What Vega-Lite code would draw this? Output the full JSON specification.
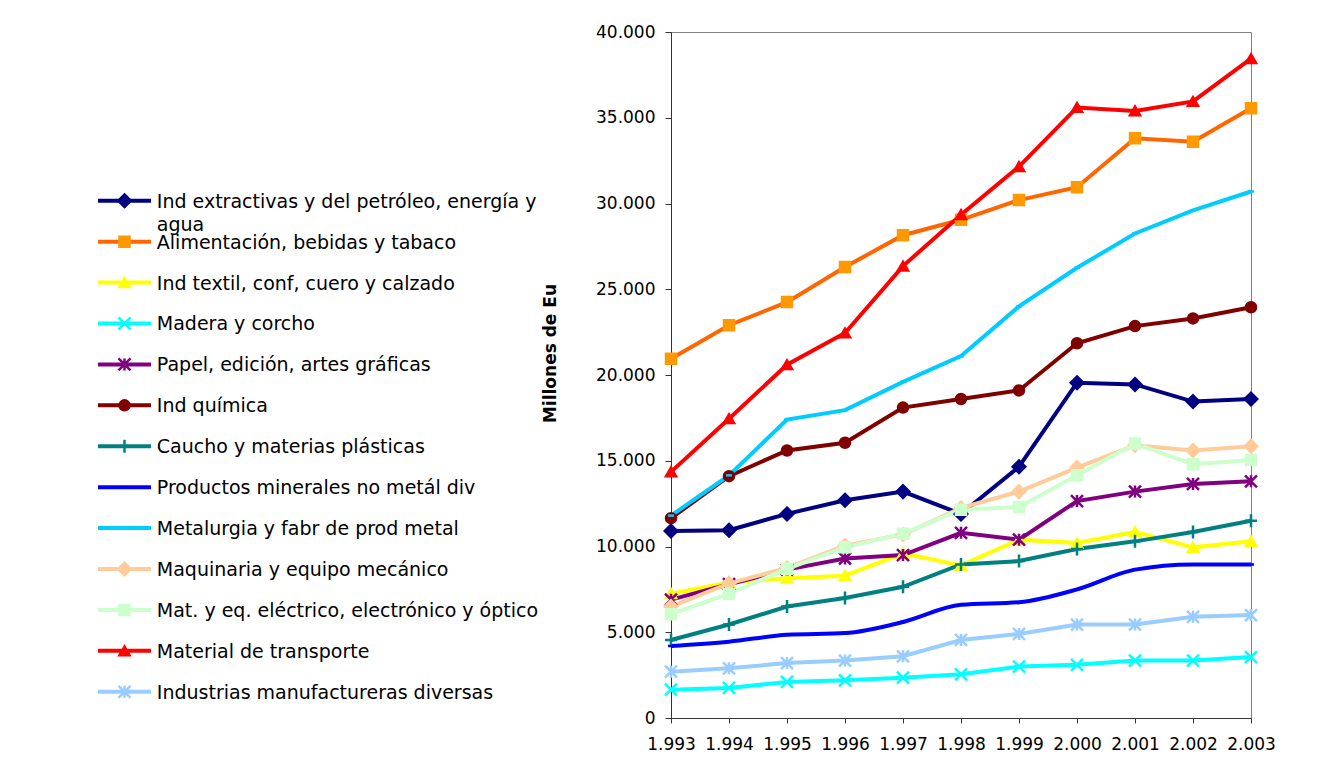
{
  "$schema": "https://vega.github.io/schema/vega-lite/v6.json",
  "width": 580,
  "height": 686,
  "autosize": {"type": "none"},
  "padding": {"left": 671, "top": 32, "right": 72, "bottom": 42},
  "background": "white",
  "config": {"view": {"stroke": "#808080", "strokeWidth": 1}, "font": "DejaVu Sans"},
  "datasets": {
    "main": [
      {"series": "Ind extractivas y del petróleo, energía y agua", "year": 1993, "value": 10900},
      {"series": "Ind extractivas y del petróleo, energía y agua", "year": 1994, "value": 10950},
      {"series": "Ind extractivas y del petróleo, energía y agua", "year": 1995, "value": 11900},
      {"series": "Ind extractivas y del petróleo, energía y agua", "year": 1996, "value": 12700},
      {"series": "Ind extractivas y del petróleo, energía y agua", "year": 1997, "value": 13200},
      {"series": "Ind extractivas y del petróleo, energía y agua", "year": 1998, "value": 11900},
      {"series": "Ind extractivas y del petróleo, energía y agua", "year": 1999, "value": 14650},
      {"series": "Ind extractivas y del petróleo, energía y agua", "year": 2000, "value": 19550},
      {"series": "Ind extractivas y del petróleo, energía y agua", "year": 2001, "value": 19450},
      {"series": "Ind extractivas y del petróleo, energía y agua", "year": 2002, "value": 18450},
      {"series": "Ind extractivas y del petróleo, energía y agua", "year": 2003, "value": 18600},
      {"series": "Alimentación, bebidas y tabaco", "year": 1993, "value": 20950},
      {"series": "Alimentación, bebidas y tabaco", "year": 1994, "value": 22900},
      {"series": "Alimentación, bebidas y tabaco", "year": 1995, "value": 24250},
      {"series": "Alimentación, bebidas y tabaco", "year": 1996, "value": 26300},
      {"series": "Alimentación, bebidas y tabaco", "year": 1997, "value": 28150},
      {"series": "Alimentación, bebidas y tabaco", "year": 1998, "value": 29050},
      {"series": "Alimentación, bebidas y tabaco", "year": 1999, "value": 30200},
      {"series": "Alimentación, bebidas y tabaco", "year": 2000, "value": 30950},
      {"series": "Alimentación, bebidas y tabaco", "year": 2001, "value": 33800},
      {"series": "Alimentación, bebidas y tabaco", "year": 2002, "value": 33600},
      {"series": "Alimentación, bebidas y tabaco", "year": 2003, "value": 35550},
      {"series": "Ind textil, conf, cuero y calzado", "year": 1993, "value": 7250},
      {"series": "Ind textil, conf, cuero y calzado", "year": 1994, "value": 7900},
      {"series": "Ind textil, conf, cuero y calzado", "year": 1995, "value": 8150},
      {"series": "Ind textil, conf, cuero y calzado", "year": 1996, "value": 8300},
      {"series": "Ind textil, conf, cuero y calzado", "year": 1997, "value": 9600},
      {"series": "Ind textil, conf, cuero y calzado", "year": 1998, "value": 8900},
      {"series": "Ind textil, conf, cuero y calzado", "year": 1999, "value": 10400},
      {"series": "Ind textil, conf, cuero y calzado", "year": 2000, "value": 10200},
      {"series": "Ind textil, conf, cuero y calzado", "year": 2001, "value": 10850},
      {"series": "Ind textil, conf, cuero y calzado", "year": 2002, "value": 9950},
      {"series": "Ind textil, conf, cuero y calzado", "year": 2003, "value": 10300},
      {"series": "Madera y corcho", "year": 1993, "value": 1650},
      {"series": "Madera y corcho", "year": 1994, "value": 1750},
      {"series": "Madera y corcho", "year": 1995, "value": 2100},
      {"series": "Madera y corcho", "year": 1996, "value": 2200},
      {"series": "Madera y corcho", "year": 1997, "value": 2350},
      {"series": "Madera y corcho", "year": 1998, "value": 2550},
      {"series": "Madera y corcho", "year": 1999, "value": 3000},
      {"series": "Madera y corcho", "year": 2000, "value": 3100},
      {"series": "Madera y corcho", "year": 2001, "value": 3350},
      {"series": "Madera y corcho", "year": 2002, "value": 3350},
      {"series": "Madera y corcho", "year": 2003, "value": 3550},
      {"series": "Papel, edición, artes gráficas", "year": 1993, "value": 6900},
      {"series": "Papel, edición, artes gráficas", "year": 1994, "value": 7800},
      {"series": "Papel, edición, artes gráficas", "year": 1995, "value": 8650},
      {"series": "Papel, edición, artes gráficas", "year": 1996, "value": 9300},
      {"series": "Papel, edición, artes gráficas", "year": 1997, "value": 9500},
      {"series": "Papel, edición, artes gráficas", "year": 1998, "value": 10800},
      {"series": "Papel, edición, artes gráficas", "year": 1999, "value": 10400},
      {"series": "Papel, edición, artes gráficas", "year": 2000, "value": 12650},
      {"series": "Papel, edición, artes gráficas", "year": 2001, "value": 13200},
      {"series": "Papel, edición, artes gráficas", "year": 2002, "value": 13650},
      {"series": "Papel, edición, artes gráficas", "year": 2003, "value": 13800},
      {"series": "Ind química", "year": 1993, "value": 11650},
      {"series": "Ind química", "year": 1994, "value": 14100},
      {"series": "Ind química", "year": 1995, "value": 15600},
      {"series": "Ind química", "year": 1996, "value": 16050},
      {"series": "Ind química", "year": 1997, "value": 18100},
      {"series": "Ind química", "year": 1998, "value": 18600},
      {"series": "Ind química", "year": 1999, "value": 19100},
      {"series": "Ind química", "year": 2000, "value": 21850},
      {"series": "Ind química", "year": 2001, "value": 22850},
      {"series": "Ind química", "year": 2002, "value": 23300},
      {"series": "Ind química", "year": 2003, "value": 23950},
      {"series": "Caucho y materias plásticas", "year": 1993, "value": 4550},
      {"series": "Caucho y materias plásticas", "year": 1994, "value": 5450},
      {"series": "Caucho y materias plásticas", "year": 1995, "value": 6500},
      {"series": "Caucho y materias plásticas", "year": 1996, "value": 7000},
      {"series": "Caucho y materias plásticas", "year": 1997, "value": 7650},
      {"series": "Caucho y materias plásticas", "year": 1998, "value": 8950},
      {"series": "Caucho y materias plásticas", "year": 1999, "value": 9150},
      {"series": "Caucho y materias plásticas", "year": 2000, "value": 9850},
      {"series": "Caucho y materias plásticas", "year": 2001, "value": 10300},
      {"series": "Caucho y materias plásticas", "year": 2002, "value": 10850},
      {"series": "Caucho y materias plásticas", "year": 2003, "value": 11500},
      {"series": "Productos minerales no metál div", "year": 1993, "value": 4200},
      {"series": "Productos minerales no metál div", "year": 1994, "value": 4450},
      {"series": "Productos minerales no metál div", "year": 1995, "value": 4850},
      {"series": "Productos minerales no metál div", "year": 1996, "value": 4950},
      {"series": "Productos minerales no metál div", "year": 1997, "value": 5600},
      {"series": "Productos minerales no metál div", "year": 1998, "value": 6600},
      {"series": "Productos minerales no metál div", "year": 1999, "value": 6750},
      {"series": "Productos minerales no metál div", "year": 2000, "value": 7500},
      {"series": "Productos minerales no metál div", "year": 2001, "value": 8650},
      {"series": "Productos minerales no metál div", "year": 2002, "value": 8950},
      {"series": "Productos minerales no metál div", "year": 2003, "value": 8950},
      {"series": "Metalurgia y fabr de prod metal", "year": 1993, "value": 11800},
      {"series": "Metalurgia y fabr de prod metal", "year": 1994, "value": 14150},
      {"series": "Metalurgia y fabr de prod metal", "year": 1995, "value": 17400},
      {"series": "Metalurgia y fabr de prod metal", "year": 1996, "value": 17950},
      {"series": "Metalurgia y fabr de prod metal", "year": 1997, "value": 19600},
      {"series": "Metalurgia y fabr de prod metal", "year": 1998, "value": 21100},
      {"series": "Metalurgia y fabr de prod metal", "year": 1999, "value": 24000},
      {"series": "Metalurgia y fabr de prod metal", "year": 2000, "value": 26250},
      {"series": "Metalurgia y fabr de prod metal", "year": 2001, "value": 28250},
      {"series": "Metalurgia y fabr de prod metal", "year": 2002, "value": 29600},
      {"series": "Metalurgia y fabr de prod metal", "year": 2003, "value": 30700},
      {"series": "Maquinaria y equipo mecánico", "year": 1993, "value": 6500},
      {"series": "Maquinaria y equipo mecánico", "year": 1994, "value": 7850},
      {"series": "Maquinaria y equipo mecánico", "year": 1995, "value": 8750},
      {"series": "Maquinaria y equipo mecánico", "year": 1996, "value": 10050},
      {"series": "Maquinaria y equipo mecánico", "year": 1997, "value": 10700},
      {"series": "Maquinaria y equipo mecánico", "year": 1998, "value": 12250},
      {"series": "Maquinaria y equipo mecánico", "year": 1999, "value": 13200},
      {"series": "Maquinaria y equipo mecánico", "year": 2000, "value": 14600},
      {"series": "Maquinaria y equipo mecánico", "year": 2001, "value": 15900},
      {"series": "Maquinaria y equipo mecánico", "year": 2002, "value": 15600},
      {"series": "Maquinaria y equipo mecánico", "year": 2003, "value": 15850},
      {"series": "Mat. y eq. eléctrico, electrónico y óptico", "year": 1993, "value": 6050},
      {"series": "Mat. y eq. eléctrico, electrónico y óptico", "year": 1994, "value": 7250},
      {"series": "Mat. y eq. eléctrico, electrónico y óptico", "year": 1995, "value": 8700},
      {"series": "Mat. y eq. eléctrico, electrónico y óptico", "year": 1996, "value": 9950},
      {"series": "Mat. y eq. eléctrico, electrónico y óptico", "year": 1997, "value": 10750},
      {"series": "Mat. y eq. eléctrico, electrónico y óptico", "year": 1998, "value": 12150},
      {"series": "Mat. y eq. eléctrico, electrónico y óptico", "year": 1999, "value": 12300},
      {"series": "Mat. y eq. eléctrico, electrónico y óptico", "year": 2000, "value": 14150},
      {"series": "Mat. y eq. eléctrico, electrónico y óptico", "year": 2001, "value": 16000},
      {"series": "Mat. y eq. eléctrico, electrónico y óptico", "year": 2002, "value": 14800},
      {"series": "Mat. y eq. eléctrico, electrónico y óptico", "year": 2003, "value": 15050},
      {"series": "Material de transporte", "year": 1993, "value": 14350},
      {"series": "Material de transporte", "year": 1994, "value": 17450},
      {"series": "Material de transporte", "year": 1995, "value": 20600},
      {"series": "Material de transporte", "year": 1996, "value": 22450},
      {"series": "Material de transporte", "year": 1997, "value": 26350},
      {"series": "Material de transporte", "year": 1998, "value": 29350},
      {"series": "Material de transporte", "year": 1999, "value": 32150},
      {"series": "Material de transporte", "year": 2000, "value": 35600},
      {"series": "Material de transporte", "year": 2001, "value": 35400},
      {"series": "Material de transporte", "year": 2002, "value": 35950},
      {"series": "Material de transporte", "year": 2003, "value": 38450},
      {"series": "Industrias manufactureras diversas", "year": 1993, "value": 2700},
      {"series": "Industrias manufactureras diversas", "year": 1994, "value": 2900},
      {"series": "Industrias manufactureras diversas", "year": 1995, "value": 3200},
      {"series": "Industrias manufactureras diversas", "year": 1996, "value": 3350},
      {"series": "Industrias manufactureras diversas", "year": 1997, "value": 3600},
      {"series": "Industrias manufactureras diversas", "year": 1998, "value": 4550},
      {"series": "Industrias manufactureras diversas", "year": 1999, "value": 4900},
      {"series": "Industrias manufactureras diversas", "year": 2000, "value": 5450},
      {"series": "Industrias manufactureras diversas", "year": 2001, "value": 5450},
      {"series": "Industrias manufactureras diversas", "year": 2002, "value": 5900},
      {"series": "Industrias manufactureras diversas", "year": 2003, "value": 6000}
    ],
    "legend": [
      {"series": "Ind extractivas y del petróleo, energía y agua", "idx": 0, "label": "Ind extractivas y del petróleo, energía y\nagua"},
      {"series": "Alimentación, bebidas y tabaco", "idx": 1, "label": "Alimentación, bebidas y tabaco"},
      {"series": "Ind textil, conf, cuero y calzado", "idx": 2, "label": "Ind textil, conf, cuero y calzado"},
      {"series": "Madera y corcho", "idx": 3, "label": "Madera y corcho"},
      {"series": "Papel, edición, artes gráficas", "idx": 4, "label": "Papel, edición, artes gráficas"},
      {"series": "Ind química", "idx": 5, "label": "Ind química"},
      {"series": "Caucho y materias plásticas", "idx": 6, "label": "Caucho y materias plásticas"},
      {"series": "Productos minerales no metál div", "idx": 7, "label": "Productos minerales no metál div"},
      {"series": "Metalurgia y fabr de prod metal", "idx": 8, "label": "Metalurgia y fabr de prod metal"},
      {"series": "Maquinaria y equipo mecánico", "idx": 9, "label": "Maquinaria y equipo mecánico"},
      {"series": "Mat. y eq. eléctrico, electrónico y óptico", "idx": 10, "label": "Mat. y eq. eléctrico, electrónico y óptico"},
      {"series": "Material de transporte", "idx": 11, "label": "Material de transporte"},
      {"series": "Industrias manufactureras diversas", "idx": 12, "label": "Industrias manufactureras diversas"}
    ]
  },
  "layer": [
    {
      "data": {"name": "main"},
      "encoding": {
        "x": {
          "field": "year", "type": "quantitative",
          "scale": {"domain": [1993, 2003], "nice": false, "zero": false},
          "axis": {
            "title": null, "grid": false,
            "values": [1993, 1994, 1995, 1996, 1997, 1998, 1999, 2000, 2001, 2002, 2003],
            "labelExpr": "replace(format(datum.value, ','), ',', '.')",
            "tickSize": 5, "labelPadding": 13, "labelFontSize": 17, "labelFont": "DejaVu Sans",
            "labelColor": "black", "labelAngle": 0, "labelFlush": false, "labelOverlap": false,
            "domainColor": "#333333", "tickColor": "#333333"
          }
        },
        "y": {
          "field": "value", "type": "quantitative",
          "scale": {"domain": [0, 40000], "nice": false},
          "axis": {
            "title": "Millones de Eu", "grid": false,
            "values": [0, 5000, 10000, 15000, 20000, 25000, 30000, 35000, 40000],
            "labelExpr": "replace(format(datum.value, ','), ',', '.')",
            "tickSize": 6, "labelPadding": 10, "labelFontSize": 17, "labelFont": "DejaVu Sans",
            "labelColor": "black", "labelFlush": false, "labelOverlap": false,
            "domainColor": "#333333", "tickColor": "#333333",
            "titleFont": "DejaVu Sans", "titleFontSize": 17, "titleFontWeight": "bold", "titleColor": "black",
            "titleX": -121, "titleY": 321, "titleAngle": -90, "titleAlign": "center", "titleBaseline": "middle"
          }
        }
      },
      "layer": [
        {
          "transform": [{"filter": "datum.series !== 'Productos minerales no metál div'"}],
          "mark": {"type": "line", "strokeWidth": 4},
          "encoding": {
            "color": {
              "field": "series", "type": "nominal", "legend": null,
              "scale": {
                "domain": ["Ind extractivas y del petróleo, energía y agua", "Alimentación, bebidas y tabaco", "Ind textil, conf, cuero y calzado", "Madera y corcho", "Papel, edición, artes gráficas", "Ind química", "Caucho y materias plásticas", "Productos minerales no metál div", "Metalurgia y fabr de prod metal", "Maquinaria y equipo mecánico", "Mat. y eq. eléctrico, electrónico y óptico", "Material de transporte", "Industrias manufactureras diversas"],
                "range": ["#000080", "#FF6600", "#FFFF00", "#00FFFF", "#800080", "#800000", "#008080", "#0000FF", "#00CCFF", "#FFCC99", "#CCFFCC", "#FF0000", "#99CCFF"]
              }
            }
          }
        },
        {
          "transform": [{"filter": "datum.series === 'Productos minerales no metál div'"}],
          "mark": {"type": "line", "strokeWidth": 4, "interpolate": "monotone"},
          "encoding": {"color": {"field": "series", "type": "nominal", "legend": null}}
        },
        {
          "mark": {"type": "point", "filled": true, "strokeWidth": 2.5, "size": 100, "opacity": 1},
          "encoding": {
            "fill": {
              "field": "series", "type": "nominal", "legend": null,
              "scale": {
                "domain": ["Ind extractivas y del petróleo, energía y agua", "Alimentación, bebidas y tabaco", "Ind textil, conf, cuero y calzado", "Madera y corcho", "Papel, edición, artes gráficas", "Ind química", "Caucho y materias plásticas", "Productos minerales no metál div", "Metalurgia y fabr de prod metal", "Maquinaria y equipo mecánico", "Mat. y eq. eléctrico, electrónico y óptico", "Material de transporte", "Industrias manufactureras diversas"],
                "range": ["#000080", "#FF9900", "#FFFF00", "#00FFFF", "#800080", "#800000", "#008080", "#0000FF", "#00CCFF", "#FFCC99", "#CCFFCC", "#FF0000", "#99CCFF"]
              }
            },
            "stroke": {
              "field": "series", "type": "nominal", "legend": null,
              "scale": {
                "domain": ["Ind extractivas y del petróleo, energía y agua", "Alimentación, bebidas y tabaco", "Ind textil, conf, cuero y calzado", "Madera y corcho", "Papel, edición, artes gráficas", "Ind química", "Caucho y materias plásticas", "Productos minerales no metál div", "Metalurgia y fabr de prod metal", "Maquinaria y equipo mecánico", "Mat. y eq. eléctrico, electrónico y óptico", "Material de transporte", "Industrias manufactureras diversas"],
                "range": ["#000080", "#FF9900", "#FFFF00", "#00FFFF", "#800080", "#800000", "#008080", "#0000FF", "#00CCFF", "#FFCC99", "#CCFFCC", "#FF0000", "#99CCFF"]
              }
            },
            "shape": {
              "field": "series", "type": "nominal", "legend": null,
              "scale": {
                "domain": ["Ind extractivas y del petróleo, energía y agua", "Alimentación, bebidas y tabaco", "Ind textil, conf, cuero y calzado", "Madera y corcho", "Papel, edición, artes gráficas", "Ind química", "Caucho y materias plásticas", "Productos minerales no metál div", "Metalurgia y fabr de prod metal", "Maquinaria y equipo mecánico", "Mat. y eq. eléctrico, electrónico y óptico", "Material de transporte", "Industrias manufactureras diversas"],
                "range": ["M0,-1.25L1.25,0L0,1.25L-1.25,0Z", "square", "triangle-up", "M-1.2,-1.2L1.2,1.2M-1.2,1.2L1.2,-1.2", "M-1.2,-1.2L1.2,1.2M-1.2,1.2L1.2,-1.2M0,-1.2L0,1.2", "circle", "M-1.2,0L1.2,0M0,-1.3L0,1.3", "M-0.6,0L0.6,0", "M-0.6,0L0.6,0", "M0,-1.25L1.25,0L0,1.25L-1.25,0Z", "square", "triangle-up", "M-1.2,-1.2L1.2,1.2M-1.2,1.2L1.2,-1.2M0,-1.2L0,1.2"]
              }
            }
          }
        }
      ]
    },
    {
      "data": {"name": "legend"},
      "encoding": {
        "y": {"field": "idx", "type": "quantitative", "scale": {"domain": [-4.123, 12.641], "reverse": true, "nice": false, "zero": false}, "axis": null}
      },
      "layer": [
        {
          "mark": {"type": "rule", "strokeWidth": 4},
          "encoding": {
            "x": {"datum": 0, "type": "quantitative", "scale": {"domain": [10.811, 21.754], "nice": false, "zero": false}, "axis": null},
            "x2": {"datum": 1},
            "color": {"field": "series", "type": "nominal", "legend": null}
          }
        },
        {
          "mark": {"type": "point", "filled": true, "strokeWidth": 2.5, "size": 100, "opacity": 1},
          "encoding": {
            "x": {"datum": 0.5, "type": "quantitative"},
            "shape": {"field": "series", "type": "nominal", "legend": null},
            "fill": {"field": "series", "type": "nominal", "legend": null},
            "stroke": {"field": "series", "type": "nominal", "legend": null}
          }
        },
        {
          "mark": {"type": "text", "align": "left", "baseline": "top", "dy": -8, "fontSize": 19, "font": "DejaVu Sans", "color": "black", "lineBreak": "\n", "lineHeight": 23},
          "encoding": {
            "x": {"datum": 1.11, "type": "quantitative"},
            "text": {"field": "label", "type": "nominal"}
          }
        }
      ]
    }
  ],
  "resolve": {"scale": {"x": "independent", "y": "independent"}}
}
